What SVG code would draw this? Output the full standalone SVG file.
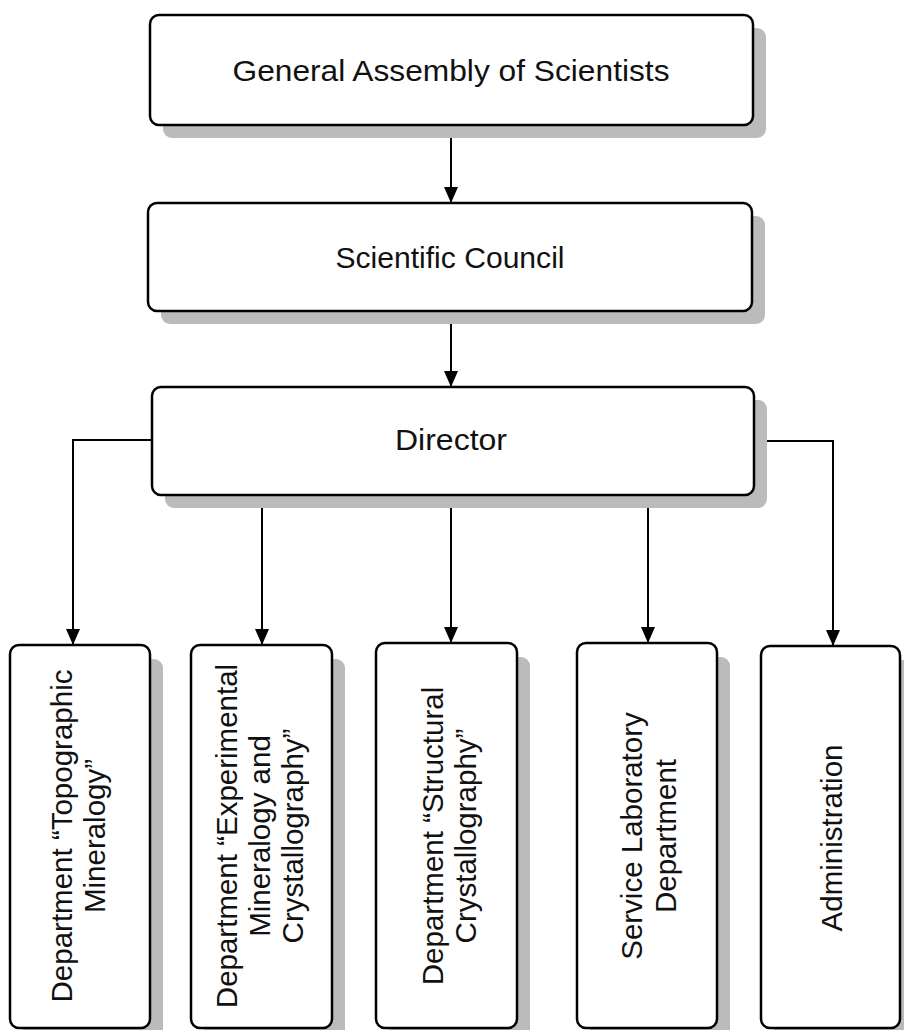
<svg xmlns="http://www.w3.org/2000/svg" width="904" height="1030" viewBox="0 0 904 1030">
<style>
.box{fill:#fff;stroke:#000;stroke-width:2.5}
.sh{fill:#bbb}
.t{font-family:"Liberation Sans",Arial,sans-serif;fill:#111;text-anchor:middle}
.h{font-size:30px}
.v{font-size:29.5px}
.c{fill:none;stroke:#000;stroke-width:2}
</style>
<defs>
<marker id="arr" markerUnits="userSpaceOnUse" markerWidth="16" markerHeight="14" refX="16" refY="7" orient="auto">
<path d="M0,0 L16,7 L0,14 z" fill="#000"/>
</marker>
</defs>
<rect width="904" height="1030" fill="#fff"/>
<g id="connectors">
<path class="c" d="M451,125 V203" marker-end="url(#arr)"/>
<path class="c" d="M451,311 V387" marker-end="url(#arr)"/>
<path class="c" d="M152,440 H73 V645" marker-end="url(#arr)"/>
<path class="c" d="M262,495 V645" marker-end="url(#arr)"/>
<path class="c" d="M451,495 V643" marker-end="url(#arr)"/>
<path class="c" d="M648,495 V643" marker-end="url(#arr)"/>
<path class="c" d="M754,441 H833 V646" marker-end="url(#arr)"/>
</g>
<g id="n1">
<rect class="sh" x="163" y="28" width="603" height="110" rx="9"/>
<rect class="box" x="150" y="15" width="603" height="110" rx="9"/>
<text class="t h" x="451" y="81" textLength="437" lengthAdjust="spacingAndGlyphs">General Assembly of Scientists</text>
</g>
<g id="n2">
<rect class="sh" x="161" y="216" width="604" height="108" rx="9"/>
<rect class="box" x="148" y="203" width="604" height="108" rx="9"/>
<text class="t h" x="450" y="268" textLength="229" lengthAdjust="spacingAndGlyphs">Scientific Council</text>
</g>
<g id="n3">
<rect class="sh" x="165" y="400" width="602" height="108" rx="9"/>
<rect class="box" x="152" y="387" width="602" height="108" rx="9"/>
<text class="t h" x="451" y="450" textLength="112" lengthAdjust="spacingAndGlyphs">Director</text>
</g>
<g id="n4">
<rect class="sh" x="23" y="659" width="140" height="390" rx="9"/>
<rect class="box" x="10" y="645" width="140" height="383" rx="9"/>
<text class="t v" transform="translate(80,836) rotate(-90)"><tspan x="0" y="-8">Department “Topographic</tspan><tspan x="0" y="25">Mineralogy”</tspan></text>
</g>
<g id="n5">
<rect class="sh" x="204" y="659" width="141" height="390" rx="9"/>
<rect class="box" x="191" y="645" width="141" height="383" rx="9"/>
<text class="t v" transform="translate(262,836) rotate(-90)"><tspan x="0" y="-25">Department “Experimental</tspan><tspan x="0" y="8">Mineralogy and</tspan><tspan x="0" y="41">Crystallography”</tspan></text>
</g>
<g id="n6">
<rect class="sh" x="389" y="657" width="141" height="390" rx="9"/>
<rect class="box" x="376" y="643" width="141" height="385" rx="9"/>
<text class="t v" transform="translate(447,836) rotate(-90)"><tspan x="0" y="-4">Department “Structural</tspan><tspan x="0" y="29">Crystallography”</tspan></text>
</g>
<g id="n7">
<rect class="sh" x="590" y="657" width="140" height="390" rx="9"/>
<rect class="box" x="577" y="643" width="140" height="385" rx="9"/>
<text class="t v" transform="translate(647,836) rotate(-90)"><tspan x="0" y="-5">Service Laboratory</tspan><tspan x="0" y="29">Department</tspan></text>
</g>
<g id="n8">
<rect class="sh" x="774" y="660" width="139" height="390" rx="9"/>
<rect class="box" x="761" y="646" width="139" height="382" rx="9"/>
<text class="t v" transform="translate(831,838) rotate(-90)"><tspan x="0" y="11">Administration</tspan></text>
</g>
</svg>
